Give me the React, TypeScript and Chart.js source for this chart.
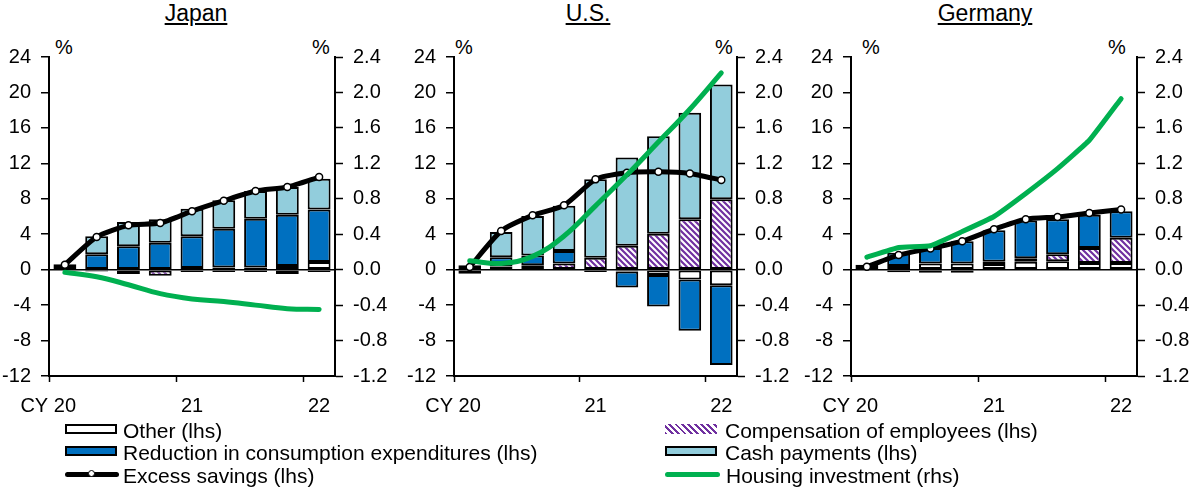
import React, { useEffect, useRef } from "react";
import { Chart, registerables } from "chart.js";

Chart.register(...registerables);

const FONT = "'Liberation Sans', Arial, Helvetica, sans-serif";

// ---- data ----
const CATEGORIES = ["20Q1", "20Q2", "20Q3", "20Q4", "21Q1", "21Q2", "21Q3", "21Q4", "22Q1"];
const TICK_LABELS = ["CY 20      ", "", "", "", "21", "", "", "", "22"];
const LEFT_TICKS = { min: -12, max: 24, step: 4 };
const RIGHT_TICKS = { min: -1.2, max: 2.4, step: 0.4 };

const JP_OTHER = [0.2, -0.2, -0.1, -0.1, 0.2, 0.25, 0.25, 0.4, 0.86];
const JP_COMP = [0, 0, -0.4, -0.6, -0.25, -0.25, -0.25, -0.5, -0.25];
const JP_REDUCTION = [0.4, 1.73, 2.63, 3.05, 3.56, 4.37, 5.5, 5.8, 5.94];
const JP_CASH = [0, 2.03, 2.75, 2.63, 3.12, 3.2, 3.12, 3.12, 3.46];
const JP_EXCESS = [0.56, 3.7, 5.0, 5.26, 6.6, 7.78, 8.87, 9.32, 10.45];
const JP_HOUSING = [-0.03, -0.08, -0.17, -0.27, -0.33, -0.36, -0.4, -0.44, -0.45];

const US_OTHER = [0.5, 0.35, 0.5, 0, -0.25, -0.2, -0.6, -1.1, -1.75];
const US_COMP = [0, 0, 0, 0.7, 1.35, 2.7, 4.05, 5.7, 7.95];
const US_REDUCTION = [-0.45, 1.05, 1.1, 1.4, 0, -1.8, -3.55, -5.8, -9.0];
const US_CASH = [0, 2.85, 4.45, 5.1, 8.84, 9.95, 11.0, 12.0, 12.95];
const US_EXCESS = [0.3, 4.36, 6.13, 7.26, 10.19, 10.94, 11.05, 10.86, 10.11];
const US_HOUSING = [0.1, 0.07, 0.15, 0.38, 0.72, 1.07, 1.44, 1.81, 2.22];

const DE_OTHER = [0.3, 0.4, 0.7, 0.7, 0.65, 0.9, 0.95, 0.75, 0.75];
const DE_COMP = [0, -0.3, -0.35, -0.35, 0.25, 0.4, 0.8, 1.7, 2.85];
const DE_REDUCTION = [0.25, 1.5, 1.75, 2.5, 3.55, 4.25, 3.95, 3.75, 3.0];
const DE_CASH = [0, 0, 0, 0, 0, 0, 0, 0, 0];
const DE_EXCESS = [0.34, 1.65, 2.4, 3.22, 4.57, 5.69, 5.95, 6.4, 6.8];
const DE_HOUSING = [0.14, 0.25, 0.27, 0.43, 0.6, 0.86, 1.14, 1.46, 1.93];

const LEGEND_LEFT = ["Other (lhs)", "Reduction in consumption expenditures (lhs)", "Excess savings (lhs)"];
const LEGEND_RIGHT = ["Compensation of employees (lhs)", "Cash payments (lhs)", "Housing investment (rhs)"];

// ---- styles ----
const C_REDUCTION = "#0070C0";
const C_CASH = "#92CDDC";
const C_COMP = "#7030A0";
const C_HOUSING = "#00B050";

const PANELS = [
  { title: "Japan", left: 0, width: 396, leftW: 49, rightW: 61, titleX: 196, pctL: 55, pctR: 312,
    other: JP_OTHER, comp: JP_COMP, reduction: JP_REDUCTION, cash: JP_CASH, excess: JP_EXCESS, housing: JP_HOUSING, tension: 0.4 },
  { title: "U.S.", left: 396, width: 401, leftW: 58, rightW: 60, titleX: 588, pctL: 455, pctR: 715,
    other: US_OTHER, comp: US_COMP, reduction: US_REDUCTION, cash: US_CASH, excess: US_EXCESS, housing: US_HOUSING, tension: 0.4 },
  { title: "Germany", left: 797, width: 395, leftW: 54, rightW: 55, titleX: 985, pctL: 862, pctR: 1108,
    other: DE_OTHER, comp: DE_COMP, reduction: DE_REDUCTION, cash: DE_CASH, excess: DE_EXCESS, housing: DE_HOUSING, tension: 0.1 },
];

const CANVAS_TOP = 30;
const CANVAS_H = 390;

function makeHatch(ctx: CanvasRenderingContext2D) {
  const s = 6;
  const c = document.createElement("canvas");
  c.width = s;
  c.height = s;
  const g = c.getContext("2d")!;
  g.fillStyle = "#fff";
  g.fillRect(0, 0, s, s);
  g.strokeStyle = C_COMP;
  g.lineWidth = 2.2;
  g.beginPath();
  for (let k = -1; k <= 1; k++) {
    g.moveTo(k * s - 1, -1);
    g.lineTo(k * s + s + 1, s + 1);
  }
  g.stroke();
  return ctx.createPattern(c, "repeat");
}

function Panel(p: any) {
  const ref = useRef<HTMLCanvasElement>(null);
  useEffect(() => {
    const canvas = ref.current!;
    const ctx = canvas.getContext("2d")!;
    const hatch = makeHatch(ctx);
    const barCommon = {
      type: "bar" as const,
      borderColor: "#000",
      borderWidth: 2,
      borderSkipped: false,
      barPercentage: 0.72,
      categoryPercentage: 1,
      yAxisID: "y",
      order: 2,
      stack: "s",
    };
    const chart = new Chart(ctx, {
      type: "bar",
      data: {
        labels: CATEGORIES,
        datasets: [
          { ...barCommon, label: "Other", data: p.other, backgroundColor: "#fff" },
          { ...barCommon, label: "Compensation", data: p.comp, backgroundColor: hatch as any },
          { ...barCommon, label: "Reduction", data: p.reduction, backgroundColor: C_REDUCTION },
          { ...barCommon, label: "Cash", data: p.cash, backgroundColor: C_CASH },
          {
            type: "line", label: "Excess savings", data: p.excess, yAxisID: "y", order: 1,
            borderColor: "#000", borderWidth: 5, tension: 0.2, pointRadius: 3.5,
            pointBackgroundColor: "#fff", pointBorderColor: "#000", pointBorderWidth: 1.5,
          } as any,
          {
            type: "line", label: "Housing investment", data: p.housing, yAxisID: "y1", order: 0,
            borderColor: C_HOUSING, borderWidth: 5, tension: p.tension, pointRadius: 0,
            borderCapStyle: "round", borderJoinStyle: "round",
          } as any,
        ],
      },
      options: {
        responsive: false,
        animation: false,
        devicePixelRatio: 1,
        layout: { padding: { top: 27, left: 0, right: 0, bottom: 0 } },
        plugins: { legend: { display: false }, tooltip: { enabled: false }, title: { display: false } },
        scales: {
          x: {
            stacked: true,
            offset: true,
            grid: {
              offset: true,
              drawOnChartArea: false,
              tickLength: 6,
              tickWidth: 1.5,
              tickColor: (c: any) => (typeof c.index === "number" && c.index % 4 === 0 ? "#000" : "rgba(0,0,0,0)"),
            },
            border: { display: true, color: "#000", width: 2 },
            ticks: {
              autoSkip: false,
              maxRotation: 0,
              padding: 12,
              color: "#000",
              font: { family: FONT, size: 20 },
              callback: (_v: any, i: number) => TICK_LABELS[i],
            },
            afterFit: (s: any) => { s.height = 44; },
          },
          y: {
            position: "left",
            stacked: true,
            min: LEFT_TICKS.min,
            max: LEFT_TICKS.max,
            grid: {
              drawOnChartArea: true,
              color: (c: any) => (c.tick && c.tick.value === 0 ? "#000" : "rgba(0,0,0,0)"),
              lineWidth: 1.5,
              tickColor: "#000",
              tickLength: 8,
              tickWidth: 1.5,
            },
            border: { display: true, color: "#000", width: 2 },
            ticks: {
              stepSize: LEFT_TICKS.step,
              padding: 10,
              color: "#000",
              font: { family: FONT, size: 20 },
            },
            afterFit: (s: any) => { s.width = p.leftW; },
          },
          y1: {
            position: "right",
            min: RIGHT_TICKS.min,
            max: RIGHT_TICKS.max,
            grid: { drawOnChartArea: false, tickColor: "#000", tickLength: 8, tickWidth: 1.5 },
            border: { display: true, color: "#000", width: 2 },
            ticks: {
              stepSize: RIGHT_TICKS.step,
              padding: 10,
              color: "#000",
              font: { family: FONT, size: 20 },
              callback: (v: any) => Number(v).toFixed(1),
            },
            afterFit: (s: any) => { s.width = p.rightW; },
          },
        },
      } as any,
    });
    return () => chart.destroy();
  }, []);

  const pctStyle: React.CSSProperties = { position: "absolute", top: 37, fontSize: 20, lineHeight: "20px" };
  return (
    <>
      <div style={{
        position: "absolute", left: p.titleX - 100, width: 200, top: 0, textAlign: "center",
        fontSize: 23, lineHeight: "26px", textDecoration: "underline", textDecorationThickness: "2px",
        textUnderlineOffset: "2px",
      }}>{p.title}</div>
      <div style={{ ...pctStyle, left: p.pctL }}>%</div>
      <div style={{ ...pctStyle, left: p.pctR }}>%</div>
      <canvas
        ref={ref}
        width={p.width}
        height={CANVAS_H}
        style={{ position: "absolute", left: p.left, top: CANVAS_TOP, width: p.width, height: CANVAS_H, display: "block" }}
      />
    </>
  );
}

function Swatch({ kind }: { kind: string }) {
  const box: React.CSSProperties = { width: 52, height: 10, border: "2px solid #000", boxSizing: "border-box" };
  if (kind === "other") return <div style={{ ...box, background: "#fff" }} />;
  if (kind === "reduction") return <div style={{ ...box, background: C_REDUCTION }} />;
  if (kind === "cash") return <div style={{ ...box, background: C_CASH }} />;
  if (kind === "comp")
    return <div style={{ ...box, border: "none", background: `repeating-linear-gradient(45deg, ${C_COMP} 0px, ${C_COMP} 2px, #fff 2px, #fff 4.5px)` }} />;
  if (kind === "excess")
    return (
      <div style={{ position: "relative", width: 54, height: 5, background: "#000", borderRadius: 3 }}>
        <div style={{ position: "absolute", left: 23, top: -1.5, width: 5, height: 5, borderRadius: 4, background: "#fff", border: "1px solid #000" }} />
      </div>
    );
  return <div style={{ width: 55, height: 5, background: C_HOUSING, borderRadius: 3 }} />;
}

function LegendRow({ left, top, kind, text, gap }: any) {
  return (
    <div style={{ position: "absolute", left, top, height: 22, display: "flex", alignItems: "center", fontSize: 21, lineHeight: "22px", whiteSpace: "nowrap" }}>
      <div style={{ transform: "translateY(-2px)", marginRight: gap }}><Swatch kind={kind} /></div>
      <span>{text}</span>
    </div>
  );
}

export default function App() {
  const rowsTop = [420, 442, 465];
  const leftKinds = ["other", "reduction", "excess"];
  const rightKinds = ["comp", "cash", "housing"];
  return (
    <div style={{ position: "fixed", left: 0, top: 0, width: 1192, height: 488, background: "#fff", fontFamily: FONT, color: "#000", overflow: "hidden" }}>
      {PANELS.map((p) => <Panel key={p.title} {...p} />)}
      {LEGEND_LEFT.map((t, i) => (
        <LegendRow key={t} left={65} top={rowsTop[i]} kind={leftKinds[i]} text={t} gap={i === 2 ? 4 : 6} />
      ))}
      {LEGEND_RIGHT.map((t, i) => (
        <LegendRow key={t} left={665} top={rowsTop[i]} kind={rightKinds[i]} text={t} gap={i === 2 ? 6 : 8} />
      ))}
    </div>
  );
}
